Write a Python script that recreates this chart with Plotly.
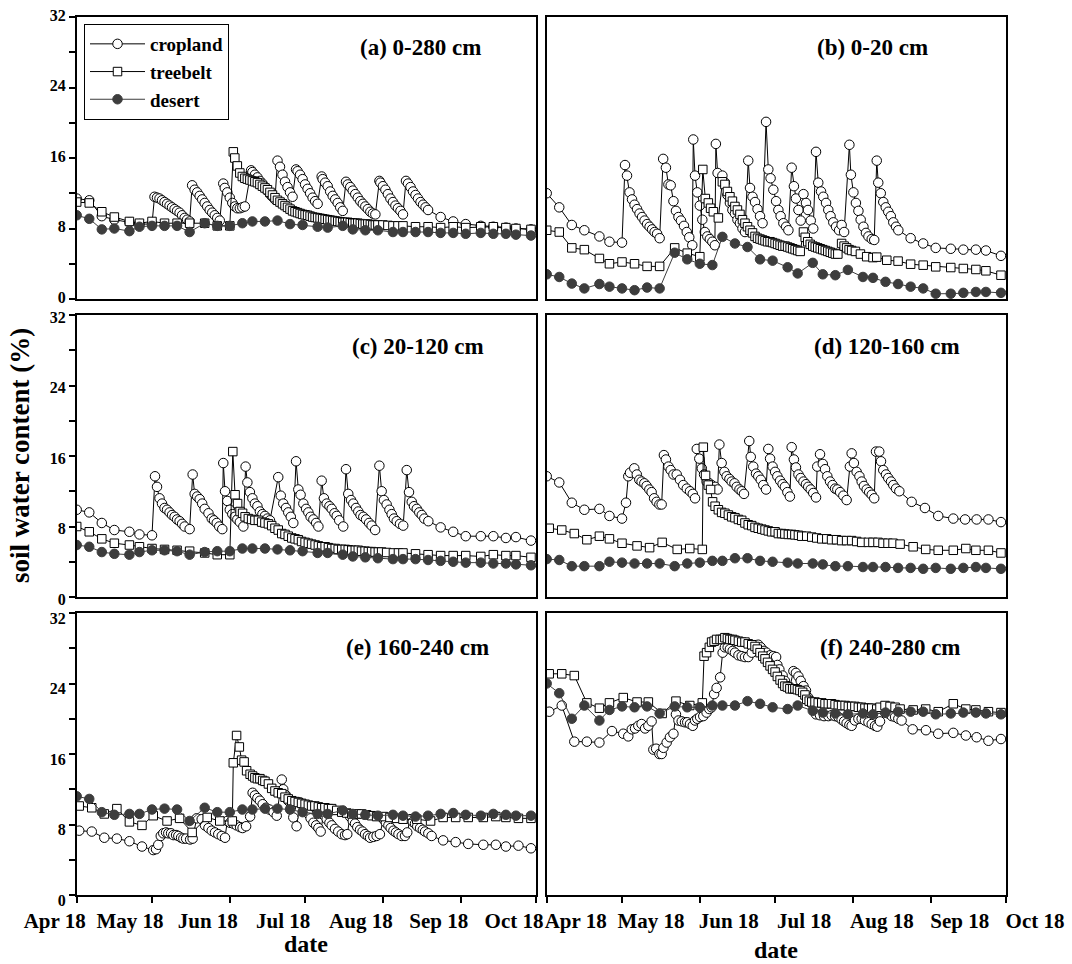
import plotly.graph_objects as go

# ---------------- data (day offset from Apr 18, soil water content %) ----------------
month_ticks = [0, 30, 61, 91, 122, 153, 183]
month_labels = ["Apr 18", "May 18", "Jun 18", "Jul 18", "Aug 18", "Sep 18", "Oct 18"]
y_ticks = [0, 8, 16, 24, 32]

days_reg = [0, 5, 10, 15, 21, 25, 30, 35, 40, 45, 51, 56, 61, 66, 70, 75, 80, 85, 90, 96,
            100, 106, 110, 115, 120, 126, 130, 135, 140, 145, 150, 155, 161, 166, 171, 175, 181]

# (a) 0-280 cm
a_crop = [(0, 11.4), (5, 11.2), (10, 9.4), (15, 9.0), (21, 8.7), (25, 8.5), (30, 8.5),
          (31, 11.6), (32, 11.5), (33, 11.4), (34, 11.2), (35, 11.0), (36, 10.8), (37, 10.6), (38, 10.4),
          (39, 10.2), (40, 10.0), (41, 9.8), (42, 9.5), (43, 9.2), (44, 9.0), (45, 8.8),
          (46, 12.9), (47, 12.4), (48, 12.1), (49, 11.7), (50, 11.3), (51, 10.9), (52, 10.5), (53, 10.1),
          (54, 9.8), (55, 9.5), (56, 9.2), (57, 8.9),
          (58.4, 13.1), (59, 12.6), (60, 12.1), (61, 11.5), (62, 10.9), (63, 10.5), (64, 10.3), (65, 10.3),
          (66, 10.4), (67, 10.5),
          (69.5, 14.6), (70, 14.4), (71, 14.1), (72, 13.8), (73, 13.4), (74, 13.1), (75, 12.7), (76, 12.3),
          (77, 11.9), (78, 11.6), (79, 11.3),
          (80, 15.7), (81, 15.0), (82, 14.1), (83, 13.3), (84, 12.7), (85, 12.1), (86, 11.6),
          (87.4, 14.7), (88, 14.5), (89, 14.1), (90, 13.6), (91, 13.0), (92, 12.5), (93, 12.0), (94, 11.5),
          (95, 11.1), (96, 10.8),
          (97.6, 13.9), (98, 13.6), (99, 13.2), (100, 12.8), (101, 12.2), (102, 11.7), (103, 11.3), (104, 10.9),
          (105, 10.4), (106, 10.0),
          (107.3, 13.3), (108, 13.0), (109, 12.7), (110, 12.3), (111, 11.9), (112, 11.5), (113, 11.1),
          (114, 10.8), (115, 10.5), (116, 10.2), (117, 9.9), (118, 9.7), (119, 9.6),
          (120.6, 13.4), (121, 13.2), (122, 12.8), (123, 12.4), (124, 11.9), (125, 11.4), (126, 11.0),
          (127, 10.6), (128, 10.3), (129, 10.0), (130, 9.6),
          (131.2, 13.4), (132, 13.1), (133, 12.7), (134, 12.2), (135, 11.8), (136, 11.4), (137, 11.0),
          (138, 10.7), (139, 10.4), (140, 10.1),
          (145, 9.3), (150, 8.8), (155, 8.5), (161, 8.3), (166, 8.2), (171, 8.1), (175, 8.0), (181, 7.9)]
a_tree = [(0, 11.0), (5, 10.9), (10, 9.9), (15, 9.3), (21, 8.8), (25, 8.6), (30, 8.8), (35, 8.6), (40, 8.6),
          (45, 8.6), (51, 8.6), (56, 8.3), (61, 8.3),
          (62.4, 16.7), (63, 16.0), (64, 15.1), (65, 14.3), (66, 13.9), (67, 13.7), (68, 13.6), (69, 13.5),
          (70, 13.4), (71, 13.3), (72, 13.2), (73, 13.0), (74, 12.8), (75, 12.6), (76, 12.4), (77, 12.1),
          (78, 11.8), (79, 11.5), (80, 11.2), (81, 11.0), (82, 10.8), (83, 10.6), (84, 10.4), (85, 10.2),
          (86, 10.0), (87, 9.9), (88, 9.8), (89, 9.7), (90, 9.6), (91, 9.55), (92, 9.5), (93, 9.4), (94, 9.3),
          (95, 9.25), (96, 9.2), (97, 9.15), (98, 9.1), (99, 9.05), (100, 9.0), (101, 8.95), (102, 8.9),
          (103, 8.85), (104, 8.8), (105, 8.75), (106, 8.7), (107, 8.7), (108, 8.7), (109, 8.65), (110, 8.6),
          (111, 8.6), (112, 8.6), (113, 8.55), (114, 8.5), (115, 8.5), (116, 8.5), (117, 8.45), (118, 8.4),
          (119, 8.4), (120, 8.4), (122, 8.4), (124, 8.35), (126, 8.3), (128, 8.3), (130, 8.3),
          (135, 8.2), (140, 8.2), (145, 8.1), (150, 8.2), (155, 8.1), (161, 8.2), (166, 8.2), (171, 8.1),
          (175, 8.0), (181, 7.9)]
a_desert = [9.5, 9.1, 7.9, 8.0, 7.7, 8.2, 8.3, 8.3, 8.3, 7.6, 8.6, 8.3, 8.3, 8.6, 8.8, 8.8, 8.9, 8.5, 8.4,
            8.2, 8.1, 8.3, 7.9, 7.8, 7.8, 7.6, 7.6, 7.6, 7.6, 7.5, 7.5, 7.4, 7.5, 7.4, 7.4, 7.3, 7.2]

# (b) 0-20 cm
b_crop = [(0, 12.0), (5, 10.4), (10, 8.4), (15, 7.8), (21, 7.1), (25, 6.5), (30, 6.4),
          (31.2, 15.2), (32, 14.0), (33, 12.1), (34, 11.3), (35, 10.7), (36, 10.2), (37, 9.7), (38, 9.3),
          (39, 8.9), (40, 8.5), (41, 8.2), (42, 7.9), (43, 7.6), (44, 7.4), (45, 6.9),
          (46.4, 15.9), (47.5, 14.9), (48.5, 13.0), (49.4, 12.9), (50.5, 11.1), (51.5, 10.0), (52.5, 9.3),
          (53.5, 8.9), (54.7, 8.3), (55.8, 7.6), (56.8, 7.0), (58, 6.1),
          (58.4, 18.1), (59.1, 14.0), (60, 12.1), (61, 10.6), (62, 9.0), (63, 7.6), (64, 7.1), (65, 6.8),
          (66, 6.5), (67, 6.1),
          (67.4, 17.6), (68.1, 14.3), (70, 14.0), (71, 13.2), (72, 11.8), (73, 10.9), (74, 10.1), (75, 9.7),
          (76, 9.0), (77, 8.6), (78, 8.0), (79, 7.6),
          (80.3, 15.7), (81, 12.6), (82, 11.6), (83, 11.0), (84, 10.2), (85, 9.4), (86, 8.6),
          (87.4, 20.1), (88.3, 14.7), (89.2, 13.7), (90.3, 12.4), (91.4, 11.1), (92.3, 10.1), (93.2, 9.4),
          (94.3, 8.6), (95.4, 8.2), (96.3, 7.8),
          (97.6, 14.9), (98.5, 12.8), (99.3, 11.4), (100.3, 10.1), (101.2, 8.9), (102.3, 11.9), (103.3, 10.9),
          (104.1, 10.1), (105.2, 8.9), (106.2, 8.0),
          (107.3, 16.7), (108.2, 13.2), (109.3, 12.2), (110.2, 11.6), (111.3, 10.9), (112.2, 10.1),
          (113.1, 9.4), (114.2, 8.7), (115.3, 8.2), (116.5, 7.8), (117.5, 8.4), (118.5, 7.6),
          (120.6, 17.5), (121.2, 14.1), (122.2, 12.1), (123.2, 10.9), (124.2, 10.0), (125.1, 9.0),
          (126.2, 8.2), (127.2, 7.5), (128.2, 7.1), (129.5, 6.8), (130.5, 6.7),
          (131.5, 15.7), (132.1, 13.2), (133.1, 12.0), (134.1, 11.0), (135.1, 10.4), (136.1, 9.9),
          (137.1, 9.4), (138.1, 8.7), (139.2, 8.2), (140.1, 7.8),
          (145, 6.9), (150, 6.3), (155, 5.8), (161, 5.7), (166, 5.6), (171, 5.6), (175, 5.5), (181, 4.9)]
b_tree = [(0, 7.8), (5, 7.6), (10, 5.8), (15, 5.6), (21, 4.6), (25, 4.0), (30, 4.2), (35, 4.0), (40, 3.7),
          (45, 3.7), (51, 5.8), (56, 5.2), (61, 4.8),
          (62.2, 14.7), (63.2, 11.4), (64.4, 10.9), (65.3, 10.3), (66.4, 9.9), (68.4, 9.2),
          (70, 13.3), (71, 13.0), (72, 12.2), (73, 11.6), (74, 11.1), (75, 10.5), (76, 10.1), (77, 9.6),
          (78, 9.0), (79, 8.6), (80, 8.2), (81, 7.8), (82, 7.5), (83, 7.1), (84, 6.9), (85, 6.8), (86, 6.7),
          (87, 6.6), (88, 6.5), (89, 6.5), (90, 6.4), (91, 6.3), (92, 6.2), (93, 6.1), (94, 6.0), (95, 6.0),
          (96, 5.9), (97, 5.8), (98, 5.7), (99, 5.6), (100, 5.5), (101, 5.4),
          (102.3, 7.6), (103, 7.0), (104, 6.5), (105, 6.2), (106, 6.0), (107, 5.9), (108, 5.8), (109, 5.7),
          (110, 5.6), (111, 5.5), (112, 5.4), (113, 5.3), (114, 5.2), (115, 5.1), (116, 5.1),
          (117.5, 6.3), (118.5, 6.0), (119.5, 5.8), (120.5, 5.6), (121.5, 5.5), (123, 5.4), (125, 5.1),
          (127.5, 4.8), (130, 4.7), (131.5, 4.75), (135.5, 4.4), (140, 4.3), (145, 3.95), (150, 3.84),
          (155, 3.65), (161, 3.57), (166, 3.46), (171, 3.35), (175, 3.2), (181, 2.7)]
b_desert = [2.8, 2.5, 1.75, 1.2, 1.7, 1.4, 1.2, 1.0, 1.3, 1.2, 5.25, 4.5, 4.0, 3.85, 7.05, 6.3, 5.9, 4.5, 4.35,
            3.6, 2.9, 4.1, 2.8, 2.7, 3.3, 2.5, 2.4, 1.95, 1.7, 1.4, 1.2, 0.6, 0.6, 0.7, 0.8, 0.8, 0.7]

# (c) 20-120 cm
c_crop = [(0, 9.9), (5, 9.6), (10, 8.4), (15, 7.6), (21, 7.4), (25, 7.1), (30, 7.0),
          (31.2, 13.7), (32, 12.5), (33, 11.2), (34, 10.6), (35, 10.1), (36, 9.9), (37, 9.6), (38, 9.3),
          (39, 9.1), (40, 8.8), (41, 8.6), (42, 8.3), (43, 8.0), (45, 7.7),
          (46.2, 13.9), (47, 11.7), (48, 11.4), (49, 11.1), (50, 10.6), (51, 10.0), (52.5, 9.5), (53.8, 8.9),
          (54.7, 8.7), (55.8, 8.4), (56.8, 8.0), (58, 7.7),
          (58.4, 15.2), (59.1, 12.0), (60, 10.9), (61, 9.9), (62, 9.4), (63, 9.1), (64, 8.8), (65, 8.5),
          (66.4, 8.0),
          (67.3, 14.8), (68, 13.0), (69, 11.9), (70, 11.2), (71, 10.6), (72, 10.3), (73, 9.7), (74, 9.4),
          (75, 9.2), (76, 8.9), (77, 8.7),
          (80.3, 13.6), (81.3, 11.5), (82.3, 10.6), (83.4, 10.1), (84.3, 9.6), (85.3, 9.1), (86.3, 8.4),
          (87.4, 15.4), (88.3, 12.2), (89.2, 11.6), (90.3, 10.6), (91.4, 10.0), (92.3, 9.6), (93.2, 9.1),
          (94.3, 8.8), (95.4, 8.4), (96.3, 8.0),
          (97.6, 13.2), (98.5, 11.2), (99.6, 10.6), (100.7, 10.3), (101.6, 10.0), (102.7, 9.5), (103.6, 9.2),
          (104.6, 8.7), (106.2, 8.0),
          (107.3, 14.5), (108.2, 11.7), (109.3, 11.0), (110.2, 10.6), (111.3, 10.1), (112.2, 9.7),
          (113.1, 9.3), (114.2, 9.1), (115.3, 8.8), (116.5, 8.4), (117.5, 8.1), (118.9, 7.6),
          (120.6, 14.9), (121.5, 12.0), (122.4, 11.0), (123.5, 10.5), (124.6, 9.9), (125.5, 9.4),
          (126.4, 8.9), (127.5, 8.6), (128.8, 8.3), (130.1, 8.1),
          (131.5, 14.4), (132.4, 11.9), (133.5, 10.8), (134.4, 10.3), (135.5, 10.0), (136.5, 9.6),
          (137.5, 9.3), (138.5, 8.9), (140.1, 8.6),
          (145, 7.9), (150, 7.4), (155, 6.9), (161, 6.9), (166, 6.9), (171, 6.7), (175, 6.8), (181, 6.4)]
c_tree = [(0, 8.0), (5, 7.4), (10, 6.6), (15, 6.1), (21, 5.9), (25, 5.7), (30, 5.5), (35, 5.4), (40, 5.3),
          (45, 5.2), (51, 5.0), (56, 4.8), (61, 4.8),
          (62.2, 16.5), (63.1, 11.6), (64.1, 10.6), (65.1, 9.7), (66.1, 9.5), (67.1, 9.1), (68.4, 8.9),
          (69.7, 8.8), (71, 8.7), (72.4, 8.7), (73.7, 8.5), (75, 8.4), (76.4, 8.3), (77.7, 8.1), (79, 7.8),
          (80.3, 7.6), (81.7, 7.2), (83, 7.1), (84.3, 6.9), (85.7, 6.7), (87, 6.6), (88.3, 6.5), (89.6, 6.3),
          (91, 6.2), (92.3, 6.1), (93.6, 6.0), (95, 5.9), (96.3, 5.8), (97.6, 5.7), (99, 5.7), (100.3, 5.6),
          (101.6, 5.5), (103, 5.5), (104.2, 5.4), (105.6, 5.4), (107, 5.4), (108.2, 5.35), (109.6, 5.3),
          (111, 5.3), (112.2, 5.3), (113.5, 5.2), (114.9, 5.2), (116.2, 5.15), (117.5, 5.15), (118.9, 5.1),
          (120.2, 5.1), (121.5, 5.1), (123.5, 5.05), (126.2, 5.0), (128.2, 5.0), (130, 5.0), (135, 4.9),
          (140, 4.8), (145, 4.7), (150, 4.7), (155, 4.7), (161, 4.6), (166, 4.8), (171, 4.7), (175, 4.7),
          (181, 4.5)]
c_desert = [5.9, 5.7, 5.1, 4.9, 4.8, 5.1, 5.3, 5.3, 5.2, 4.8, 5.1, 5.2, 5.2, 5.5, 5.5, 5.5, 5.4, 5.3, 5.2,
            5.0, 5.0, 4.8, 4.6, 4.5, 4.4, 4.3, 4.3, 4.3, 4.2, 4.1, 4.0, 3.9, 3.9, 3.8, 3.8, 3.7, 3.6]

# (d) 120-160 cm
d_crop = [(0, 13.7), (5, 13.0), (10, 10.7), (15, 9.9), (21, 10.0), (25, 9.2), (30, 8.9),
          (31.6, 10.7), (32.5, 13.7), (33.2, 14.1), (34.9, 14.6), (35.9, 13.9), (36.9, 13.3), (37.8, 13.1),
          (38.9, 12.9), (39.8, 12.6), (40.9, 12.2), (41.8, 11.9), (42.8, 11.2), (43.8, 10.8), (44.9, 10.5),
          (45.8, 10.5),
          (46.7, 16.1), (47.5, 15.6), (48.5, 14.8), (49.4, 14.4), (50.5, 13.9), (51.8, 13.9), (53.1, 13.3),
          (54.4, 12.7), (55.8, 12.3), (57.1, 12.0), (58.2, 11.7), (59.1, 11.2),
          (59.8, 16.8), (60.8, 15.7), (61.8, 14.6), (62.7, 13.9), (63.7, 13.1), (64.8, 12.9), (65.7, 12.7),
          (67.1, 12.5), (68.1, 12.2),
          (68.8, 17.3), (69.7, 15.2), (70.8, 14.2), (71.7, 13.7), (72.8, 13.4), (73.7, 13.1), (74.8, 12.9),
          (75.7, 12.5), (76.8, 12.2), (77.7, 12.0), (78.6, 11.7),
          (80.7, 17.7), (81.3, 15.9), (82.3, 14.8), (83.4, 14.0), (84.3, 13.7), (85.3, 13.3), (86.3, 12.7),
          (87.4, 12.2),
          (88.3, 16.8), (89, 15.7), (90, 14.8), (91, 14.2), (91.9, 13.7), (93, 13.2), (94, 12.8), (94.9, 12.5),
          (95.9, 11.9), (96.9, 11.4),
          (97.6, 17.0), (98.5, 15.6), (99.3, 14.7), (100.3, 13.9), (101.2, 13.5), (102.3, 13.1), (103.3, 12.8),
          (104.2, 12.5), (105.2, 12.2), (106.2, 11.8), (107.3, 11.3),
          (107.8, 14.8), (108.9, 16.2), (110, 15.1), (110.9, 14.5), (111.8, 13.7), (112.9, 13.1), (113.9, 12.7),
          (114.9, 12.3), (115.8, 12.2), (116.9, 11.9), (118.2, 11.5), (119.5, 11.0),
          (120.8, 14.8), (121.5, 16.3), (122.4, 15.2), (123.5, 14.2), (124.6, 13.7), (125.5, 13.1),
          (126.4, 12.6), (127.5, 12.2), (128.5, 11.9), (129.5, 11.6), (130.5, 11.2),
          (131.2, 16.5), (132.5, 16.5), (133.2, 15.4), (134.1, 14.4), (135.2, 13.9), (136.1, 13.5),
          (137.2, 13.1), (138.1, 12.7), (139.2, 12.3), (140.5, 12.0),
          (145.4, 10.8), (150.7, 10.1), (156, 9.2), (162, 8.9), (166.7, 8.8), (171.3, 8.8), (176, 8.8),
          (181, 8.5)]
d_tree = [(1, 7.8), (6, 7.6), (11, 7.2), (16, 6.5), (21, 6.9), (25, 6.6), (30, 6.1), (36, 5.8), (41, 5.6),
          (46, 6.2), (52, 5.4), (57, 5.5), (62, 5.4),
          (62.4, 17.0), (63.3, 13.8), (64.4, 12.7), (65.3, 12.2), (66.1, 10.8), (67.1, 10.3), (68.4, 9.9),
          (69.7, 9.6), (71, 9.5), (72.4, 9.3), (73.7, 9.1), (75, 9.0), (76.4, 8.8), (77.7, 8.7), (79, 8.4),
          (80.3, 8.2), (81.7, 8.1), (83, 7.9), (84.3, 7.8), (85.7, 7.7), (87, 7.6), (88.3, 7.5), (89.6, 7.4),
          (91, 7.4), (92.3, 7.2), (93.6, 7.2), (94.9, 7.15), (96.3, 7.1), (97.6, 7.1), (98.9, 7.05),
          (100.3, 7.0), (101.6, 6.9), (103.6, 6.9), (105.6, 6.8), (107.6, 6.7), (109.6, 6.6), (111.6, 6.6),
          (113.5, 6.5), (115.5, 6.5), (117.5, 6.4), (119.5, 6.4), (121.5, 6.4), (123.5, 6.3), (125.5, 6.2),
          (128.2, 6.2), (130, 6.2), (132, 6.2), (134, 6.1), (136, 6.1), (138, 6.1), (140.8, 6.0),
          (146, 5.7), (151, 5.4), (156, 5.3), (162, 5.3), (167, 5.5), (171, 5.3), (176, 5.3), (181, 5.0)]
d_desert = [4.3, 4.2, 3.5, 3.5, 3.5, 4.0, 3.9, 3.8, 3.8, 3.8, 3.5, 3.8, 3.9, 4.1, 4.1, 4.4, 4.4, 4.1, 4.0,
            3.9, 3.8, 3.8, 3.7, 3.5, 3.5, 3.4, 3.4, 3.4, 3.3, 3.3, 3.2, 3.3, 3.2, 3.3, 3.4, 3.3, 3.2]

# (e) 160-240 cm
e_crop = [(1, 7.3), (6, 7.2), (11, 6.5), (16, 6.4), (21, 6.1), (26, 5.5), (30.5, 5.1),
          (31.6, 5.2), (32.5, 5.7), (33.5, 6.7), (34.5, 7.0), (35.6, 7.1), (36.5, 7.0), (37.6, 7.0),
          (38.5, 6.8), (39.6, 6.8), (40.5, 6.7), (41.6, 6.5), (42.5, 6.4), (43.6, 6.4), (45.2, 6.3),
          (46.2, 6.4), (47.8, 8.7), (49.8, 8.6), (51.1, 7.9), (52.5, 7.6), (53.8, 7.3), (55.1, 7.1),
          (56.4, 6.9), (57.8, 6.7), (59.1, 6.5),
          (60, 8.4), (61.1, 8.2), (62.4, 8.1), (63.7, 7.9), (65.1, 7.7), (66.1, 7.6), (67.5, 7.8),
          (69.1, 8.9), (70.1, 11.6), (71, 11.3), (72, 11.0), (73, 10.7), (74.1, 10.3), (75.4, 9.9),
          (76.8, 9.7), (78.4, 9.4), (79.7, 9.0),
          (81.7, 13.1), (82.3, 12.0), (83.4, 11.3), (84.3, 10.7), (85.3, 9.9), (86.3, 8.8), (87.6, 7.8),
          (89, 10.5), (90.3, 10.1), (91.4, 9.7), (92.3, 9.2), (93.2, 8.7), (94.3, 8.2), (95.4, 7.9),
          (96.3, 7.6), (97.2, 7.2),
          (98.3, 9.1), (99.6, 8.6), (100.7, 8.2), (101.6, 7.9), (102.9, 7.5), (104.2, 7.2), (105.6, 6.9),
          (106.9, 6.8), (107.8, 6.9),
          (108.9, 8.9), (110, 8.4), (110.9, 8.1), (111.8, 7.7), (112.9, 7.4), (113.9, 7.2), (114.9, 6.9),
          (116, 6.7), (116.9, 6.5), (118.2, 6.6), (119.5, 6.7), (120.8, 6.9),
          (122.2, 8.6), (123.2, 8.2), (124.2, 7.9), (125.1, 7.6), (126.2, 7.3), (127.2, 7.1), (128.2, 6.9),
          (129.5, 6.7), (130.8, 6.7), (131.7, 7.1),
          (132.8, 8.6), (133.9, 8.3), (134.8, 8.1), (135.7, 7.8), (136.8, 7.6), (137.9, 7.4), (138.8, 7.2),
          (140.1, 7.0), (141.4, 6.7),
          (146, 6.2), (151, 6.0), (156, 5.8), (162, 5.7), (167, 5.7), (171, 5.5), (176, 5.6), (181, 5.3)]
e_tree = [(1, 10.1), (6, 9.9), (11, 9.2), (16, 9.8), (21, 8.3), (26, 7.9), (30.5, 9.0), (36, 8.4), (41, 8.7),
          (46, 7.1), (52, 8.8), (57, 8.4), (62, 8.4),
          (62.4, 15.0), (63.7, 18.1), (64.8, 16.8), (65.7, 15.3), (66.7, 15.1), (67.7, 14.1), (69.1, 13.7),
          (70.1, 13.5), (71, 13.3), (72, 13.2), (73, 13.2), (74.1, 13.0), (75, 12.9), (76.4, 12.6),
          (77.7, 12.1), (79, 11.8), (80.3, 11.6), (81.7, 11.5), (83, 11.1), (84.3, 10.9), (85.7, 10.7),
          (87, 10.6), (88.3, 10.5), (89.6, 10.4), (91, 10.3), (92.3, 10.2), (93.6, 10.1), (94.9, 10.1),
          (96.3, 10.0), (97.6, 9.9), (98.9, 9.9), (100.3, 9.8), (101.6, 9.8), (103.6, 9.6), (105.6, 9.4),
          (107.6, 9.3), (109.6, 9.2), (111.6, 9.2), (113.5, 9.2), (115.5, 9.1), (117.5, 9.0), (119.5, 8.9),
          (122.2, 8.9), (124.8, 8.8), (127.5, 8.7), (130, 8.6), (135.5, 8.6), (141, 8.4), (146, 8.8),
          (151, 8.8), (156, 8.8), (162, 8.8), (167, 8.9), (171, 8.8), (176, 8.7), (181, 8.7)]
e_desert = [11.2, 10.9, 9.4, 9.1, 9.2, 9.2, 9.7, 9.8, 9.7, 8.4, 9.9, 9.4, 9.4, 9.7, 9.7, 9.8, 9.8, 9.7, 9.4,
            9.2, 9.2, 9.6, 9.2, 9.1, 9.0, 9.1, 9.0, 8.9, 9.0, 9.2, 9.3, 9.1, 9.0, 9.2, 9.1, 9.0, 9.0]

# (f) 240-280 cm
f_crop = [(1, 20.8), (6, 21.5), (11, 17.4), (16, 17.4), (21, 17.3), (26, 18.6), (30.5, 18.3), (32.5, 18.0),
          (33.9, 18.8), (35.2, 18.9), (36.5, 19.2), (37.8, 19.4), (39.2, 18.9), (40.5, 19.2), (41.8, 19.7),
          (42.5, 16.5), (43.6, 16.6), (44.9, 16.0), (45.8, 16.0), (46.5, 16.7), (47.8, 17.3), (49.1, 17.9),
          (50.5, 18.3), (51.5, 20.5), (52.5, 19.8), (53.8, 19.7), (55.1, 19.6), (56, 19.6), (57.1, 19.4),
          (58.2, 19.2), (59.1, 19.8), (60, 20.0), (61.1, 20.2), (62.4, 20.3), (63.7, 20.7), (64.8, 21.1),
          (65.7, 21.3), (66.7, 22.8), (67.7, 23.5), (69.1, 24.7), (70.1, 27.5), (71, 28.1), (72.1, 28.1),
          (73, 27.9), (74.1, 27.7), (75, 27.5), (76.4, 27.2), (77.7, 27.1), (79, 27.0), (80.3, 27.0),
          (81.7, 27.5), (83, 28.3), (84.3, 28.4), (85.3, 28.1), (86.6, 27.7), (87.6, 27.5), (89, 27.2),
          (90.3, 27.1), (91.4, 27.0), (91.9, 26.1), (92.7, 25.6), (94, 24.9), (94.9, 24.3), (95.9, 23.7),
          (96.9, 23.6), (98.3, 25.4), (99.3, 25.2), (100.3, 24.8), (101.2, 24.3), (102.3, 23.7),
          (103.3, 23.2), (104.2, 22.4), (105.6, 21.7), (107.3, 20.5), (108.9, 20.4), (110.5, 20.3),
          (112.2, 20.3), (113.5, 20.4), (114.9, 20.3), (116.2, 20.2), (117.5, 19.9), (118.5, 19.7),
          (119.5, 19.5), (120.6, 19.3), (121.5, 19.2), (122.8, 19.8), (124.2, 20.0), (125.5, 20.0),
          (126.8, 19.8), (128.2, 19.6), (129.5, 19.4), (130.8, 19.2), (131.7, 19.1), (132.8, 19.7),
          (134.8, 20.7), (136.1, 20.6), (137.5, 20.3), (138.8, 20.2), (140.1, 20.0), (141.4, 19.8),
          (145.8, 18.8), (151.1, 18.7), (156, 18.3), (162, 18.4), (167, 18.1), (171.3, 17.9), (176, 17.5),
          (181, 17.7)]
f_tree = [(1, 25.1), (6, 25.1), (11, 24.9), (16, 21.8), (21, 21.2), (25, 21.8), (30.5, 22.4), (36, 21.9),
          (40.5, 21.9), (46, 20.6), (51.5, 22.0), (57, 21.5), (62, 21.8),
          (62.7, 27.1), (63.7, 27.5), (64.8, 28.1), (65.7, 28.7), (66.7, 28.8), (67.7, 29.0), (69.1, 29.0),
          (70.1, 29.0), (71, 29.2), (72, 29.1), (73, 29.0), (74.1, 29.0), (75, 28.9), (76.4, 28.8),
          (77.7, 28.7), (79, 28.7), (80.3, 28.5), (81.7, 28.4), (83, 28.2), (83.9, 27.9), (85, 27.5),
          (86.1, 27.1), (87, 26.8), (88, 26.4), (89, 26.0), (90, 25.6), (91, 25.3), (91.9, 24.8), (93, 24.4),
          (94, 24.0), (94.9, 23.7), (95.9, 23.6), (96.9, 23.4), (98, 23.4), (98.9, 23.4), (99.9, 23.3),
          (100.9, 23.2), (102, 23.0), (102.9, 22.7), (103.6, 22.2), (104.6, 22.0), (105.6, 21.9),
          (106.9, 21.9), (108.2, 21.8), (109.6, 21.8), (110.9, 21.7), (112.2, 21.7), (113.5, 21.7),
          (114.9, 21.6), (116.2, 21.5), (117.5, 21.5), (118.9, 21.5), (120.2, 21.4), (121.5, 21.4),
          (122.8, 21.4), (124.2, 21.3), (125.5, 21.3), (126.8, 21.2), (128.2, 21.2), (129.5, 21.2),
          (131.5, 21.1), (132.8, 21.3), (134.8, 21.5), (136.8, 21.4), (138.8, 21.3), (140.8, 21.1),
          (146, 21.0), (151, 21.1), (156, 20.8), (162, 21.7), (167, 21.1), (171, 21.0), (176, 20.8),
          (181, 20.7)]
f_desert = [24.0, 22.9, 20.0, 21.5, 19.8, 21.0, 21.4, 21.3, 21.4, 20.6, 21.4, 21.3, 21.3, 21.5, 21.5, 21.5,
            22.0, 21.7, 21.3, 21.1, 21.5, 20.9, 20.7, 20.6, 20.5, 20.6, 20.5, 20.7, 20.8, 20.8, 20.8, 20.5,
            20.6, 20.7, 20.7, 20.6, 20.5]

panel_titles = ["(a) 0-280 cm", "(b) 0-20 cm", "(c) 20-120 cm", "(d) 120-160 cm",
                "(e) 160-240 cm", "(f) 240-280 cm"]
series_names = ["cropland", "treebelt", "desert"]

panels = [(a_crop, a_tree, a_desert), (b_crop, b_tree, b_desert), (c_crop, c_tree, c_desert),
          (d_crop, d_tree, d_desert), (e_crop, e_tree, e_desert), (f_crop, f_tree, f_desert)]

# ---------------- layout geometry ----------------
W, H = 1072, 964
FONT = "Liberation Serif"
col_px = [(76.7, 536.0), (546.7, 1006.0)]
row_px = [(17.0, 299.0), (315.0, 597.0), (613.0, 895.0)]
ylabel_shift = [-2, 2, 5]   # px (down positive): keeps stacked "0" / "32" labels apart
title_pos = [(420, 47), (872, 47), (418, 346), (887, 346), (417, 647), (890, 647)]
DES_COLOR = "#3d3d3d"

fig = go.Figure()
layout = dict(width=W, height=H, margin=dict(l=0, r=0, t=0, b=0, autoexpand=False),
              template="none",
              paper_bgcolor="white", plot_bgcolor="white",
              font=dict(family=FONT, color="black"), showlegend=True)
annotations = []

for i, (crop, tree, desert) in enumerate(panels):
    r, c = divmod(i, 2)
    n = i + 1
    xa = "xaxis" if n == 1 else f"xaxis{n}"
    ya = "yaxis" if n == 1 else f"yaxis{n}"
    xr = "x" if n == 1 else f"x{n}"
    yr = "y" if n == 1 else f"y{n}"
    show = (i == 0)
    cd, cv = zip(*crop)
    td, tv = zip(*tree)
    fig.add_trace(go.Scatter(x=cd, y=cv, mode="lines+markers", name=series_names[0], showlegend=show,
                             xaxis=xr, yaxis=yr, line=dict(color="black", width=1),
                             marker=dict(symbol="circle", size=9.5, color="white",
                                         line=dict(color="black", width=1))))
    fig.add_trace(go.Scatter(x=td, y=tv, mode="lines+markers", name=series_names[1], showlegend=show,
                             xaxis=xr, yaxis=yr, line=dict(color="black", width=1),
                             marker=dict(symbol="square", size=8.5, color="white",
                                         line=dict(color="black", width=1))))
    fig.add_trace(go.Scatter(x=days_reg, y=desert, mode="lines+markers", name=series_names[2],
                             showlegend=show, xaxis=xr, yaxis=yr, line=dict(color=DES_COLOR, width=1),
                             marker=dict(symbol="circle", size=9.5, color=DES_COLOR,
                                         line=dict(color=DES_COLOR, width=1))))

    x0, x1 = col_px[c]
    y0, y1 = row_px[r]
    bottom = (r == 2)
    left = (c == 0)
    layout[xa] = dict(domain=[x0 / W, x1 / W], anchor=yr, range=[0, 183], automargin=False,
                      showline=True, mirror=True, linecolor="black", linewidth=1.5,
                      showgrid=False, zeroline=False,
                      tickmode="array", tickvals=month_ticks,
                      ticktext=month_labels if bottom else [""] * len(month_ticks),
                      showticklabels=bottom, ticks="outside" if bottom else "",
                      ticklen=6, tickwidth=1.5, tickcolor="black",
                      tickfont=dict(family=FONT, size=21, color="black", weight="bold"),
                      ticklabelshift=(-22 if left else 29))
    layout[ya] = dict(domain=[1 - y1 / H, 1 - y0 / H], anchor=xr, range=[0, 32], automargin=False,
                      showline=True, mirror=True, linecolor="black", linewidth=1.5,
                      showgrid=False, zeroline=False,
                      tickmode="array", tickvals=y_ticks,
                      showticklabels=left, ticks="outside" if left else "",
                      ticklen=6, tickwidth=1.5, tickcolor="black",
                      minor=dict(tickmode="array", tickvals=[4, 12, 20, 28],
                                 ticks="outside" if left else "", ticklen=6, tickwidth=1.5,
                                 tickcolor="black"),
                      tickfont=dict(family=FONT, size=16, color="black", weight="bold"),
                      ticklabelshift=ylabel_shift[r])
    tx, ty = title_pos[i]
    annotations.append(dict(text=panel_titles[i], x=tx / W, y=1 - ty / H, xref="paper", yref="paper",
                            showarrow=False, xanchor="center", yanchor="middle",
                            font=dict(family=FONT, size=23, color="black", weight="bold")))

annotations.append(dict(text="soil water content (%)", x=20 / W, y=1 - 456 / H, xref="paper", yref="paper",
                        showarrow=False, textangle=-90, xanchor="center", yanchor="middle",
                        font=dict(family=FONT, size=27, color="black", weight="bold")))
for cx, cy in [(306, 944), (776, 950)]:
    annotations.append(dict(text="date", x=cx / W, y=1 - cy / H, xref="paper", yref="paper",
                            showarrow=False, xanchor="center", yanchor="middle",
                            font=dict(family=FONT, size=24, color="black", weight="bold")))

layout["annotations"] = annotations
layout["legend"] = dict(x=84 / W, y=1 - 24 / H, xanchor="left", yanchor="top",
                        bordercolor="black", borderwidth=1, bgcolor="white",
                        font=dict(family=FONT, size=19, color="black", weight="bold"),
                        itemwidth=55, tracegroupgap=0)
fig.update_layout(**layout)
fig.write_html("out.html")
